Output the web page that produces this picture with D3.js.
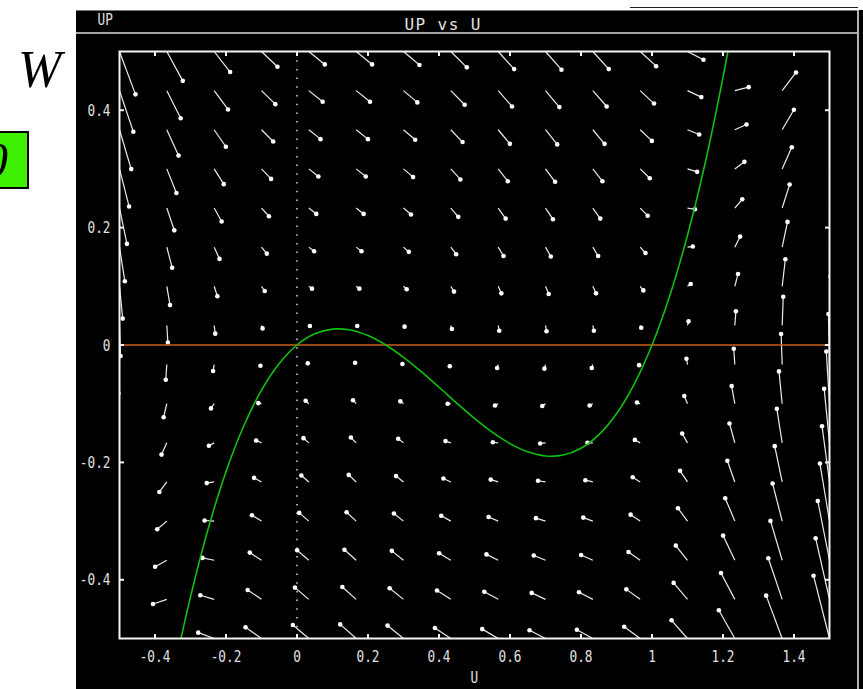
<!DOCTYPE html>
<html>
<head>
<meta charset="utf-8">
<script src="https://cdn.jsdelivr.net/npm/d3@7/dist/d3.min.js"></script>
<style>
  html, body { margin: 0; padding: 0; background: #fff; }
  svg { display: block; }
</style>
</head>
<body>
<svg id="chart" width="863" height="689"></svg>
<script>
// ---- data -------------------------------------------------------------
const uDomain = [-0.5, 1.5];
const upDomain = [-0.5, 0.5];

const uTicks = [-0.4, -0.2, 0, 0.2, 0.4, 0.6, 0.8, 1, 1.2, 1.4];
const uTickLabels = ["-0.4", "-0.2", "0", "0.2", "0.4", "0.6", "0.8", "1", "1.2", "1.4"];
const upTicks = [-0.4, -0.2, 0, 0.2, 0.4];
const upTickLabels = ["-0.4", "-0.2", "0", "0.2", "0.4"];

// direction-field sample points (columns in U, rows in UP)
const gridU = [-0.5, -0.3667, -0.2333, -0.1, 0.0333, 0.1667, 0.3, 0.4333,
               0.5667, 0.7, 0.8333, 0.9667, 1.1, 1.2333, 1.3667, 1.5];
const gridUP = [-0.5, -0.4333, -0.3667, -0.3, -0.2333, -0.1667, -0.1, -0.0333,
                0.0333, 0.1, 0.1667, 0.2333, 0.3, 0.3667, 0.4333, 0.5];

// arrow extent along U, one value per row
const arrowDU = [-0.045, -0.039, -0.033, -0.027, -0.021, -0.015, -0.009, -0.003,
                 0.003, 0.009, 0.015, 0.021, 0.027, 0.033, 0.039, 0.045];

// arrow extent along UP, one row per gridUP entry, one value per gridU entry
const arrowDUP = [
  [-0.028, -0.005, 0.010, 0.019, 0.023, 0.024, 0.022, 0.018, 0.016, 0.014, 0.015, 0.020, 0.031, 0.048, 0.073, 0.107],
  [-0.031, -0.008, 0.007, 0.016, 0.020, 0.021, 0.019, 0.015, 0.013, 0.011, 0.012, 0.017, 0.028, 0.045, 0.070, 0.104],
  [-0.034, -0.011, 0.004, 0.013, 0.017, 0.018, 0.016, 0.012, 0.010, 0.008, 0.009, 0.014, 0.025, 0.042, 0.067, 0.101],
  [-0.037, -0.014, 0.001, 0.010, 0.014, 0.015, 0.013, 0.009, 0.007, 0.005, 0.006, 0.011, 0.022, 0.039, 0.064, 0.098],
  [-0.040, -0.017, -0.002, 0.007, 0.011, 0.012, 0.010, 0.006, 0.004, 0.002, 0.003, 0.008, 0.019, 0.036, 0.061, 0.095],
  [-0.043, -0.020, -0.005, 0.004, 0.008, 0.009, 0.007, 0.003, 0.001, -0.001, 0.000, 0.005, 0.016, 0.033, 0.058, 0.092],
  [-0.046, -0.023, -0.008, 0.001, 0.005, 0.006, 0.004, 0.000, -0.003, -0.004, -0.003, 0.002, 0.013, 0.030, 0.055, 0.089],
  [-0.049, -0.026, -0.011, -0.002, 0.002, 0.003, 0.001, -0.003, -0.006, -0.007, -0.006, -0.001, 0.010, 0.027, 0.052, 0.086],
  [-0.052, -0.029, -0.014, -0.005, -0.001, -0.001, -0.002, -0.006, -0.009, -0.010, -0.009, -0.004, 0.007, 0.024, 0.049, 0.083],
  [-0.055, -0.032, -0.017, -0.008, -0.004, -0.004, -0.005, -0.009, -0.012, -0.013, -0.012, -0.007, 0.004, 0.021, 0.046, 0.080],
  [-0.058, -0.035, -0.020, -0.011, -0.007, -0.007, -0.008, -0.012, -0.015, -0.016, -0.015, -0.010, 0.001, 0.018, 0.043, 0.077],
  [-0.061, -0.038, -0.023, -0.014, -0.010, -0.010, -0.011, -0.015, -0.018, -0.019, -0.018, -0.013, -0.002, 0.015, 0.040, 0.074],
  [-0.064, -0.041, -0.026, -0.017, -0.013, -0.013, -0.014, -0.018, -0.021, -0.022, -0.021, -0.016, -0.005, 0.012, 0.037, 0.071],
  [-0.067, -0.044, -0.029, -0.020, -0.016, -0.016, -0.017, -0.021, -0.024, -0.025, -0.024, -0.019, -0.008, 0.009, 0.034, 0.068],
  [-0.070, -0.047, -0.032, -0.023, -0.019, -0.019, -0.020, -0.024, -0.027, -0.028, -0.027, -0.022, -0.011, 0.006, 0.031, 0.065],
  [-0.073, -0.050, -0.035, -0.026, -0.022, -0.022, -0.023, -0.027, -0.030, -0.031, -0.030, -0.025, -0.014, 0.003, 0.028, 0.062]
];

// U-nullcline (UP = 0)
const uNullclineUP = 0;

// UP-nullcline, cubic in U
const upNullcline = [
  [-0.33, -0.509], [-0.30, -0.429], [-0.25, -0.3125], [-0.20, -0.216], [-0.15, -0.138],
  [-0.10, -0.077], [-0.05, -0.0315], [0.00, 0.000], [0.05, 0.019], [0.10, 0.027],
  [0.15, 0.0255], [0.20, 0.016], [0.25, 0.000], [0.30, -0.021], [0.35, -0.0455],
  [0.40, -0.072], [0.45, -0.099], [0.50, -0.125], [0.55, -0.1485], [0.60, -0.168],
  [0.65, -0.182], [0.70, -0.189], [0.75, -0.1875], [0.80, -0.176], [0.85, -0.153],
  [0.90, -0.117], [0.95, -0.0665], [1.00, 0.000], [1.05, 0.084], [1.10, 0.187],
  [1.15, 0.3105], [1.20, 0.456], [1.22, 0.5207]
];

// ---- drawing ----------------------------------------------------------
const svg = d3.select("#chart");
const W = 863, H = 689;

const x = d3.scaleLinear().domain(uDomain).range([119.5, 829.5]);
const y = d3.scaleLinear().domain(upDomain).range([638.5, 51.5]);

const txt = "#e2e2e2";
const mono = "'DejaVu Sans Mono', 'Liberation Mono', monospace";

// side annotations on the white margin
svg.append("text")
  .attr("x", 18).attr("y", 87)
  .attr("font-family", "'Liberation Serif', 'DejaVu Serif', serif")
  .attr("font-style", "italic")
  .attr("font-size", 52)
  .attr("fill", "#000")
  .text("W");

svg.append("rect")
  .attr("x", -30).attr("y", 132).attr("width", 58).attr("height", 56)
  .attr("fill", "#3cf000").attr("stroke", "#000").attr("stroke-width", 2);
svg.append("text")
  .attr("x", -17).attr("y", 177)
  .attr("font-family", "'Liberation Serif', 'DejaVu Serif', serif")
  .attr("font-style", "italic")
  .attr("font-size", 50)
  .attr("fill", "#000")
  .text("0");

// window
svg.append("line")
  .attr("x1", 630).attr("x2", 858).attr("y1", 7.5).attr("y2", 7.5)
  .attr("stroke", "#222").attr("stroke-width", 1);
svg.append("rect")
  .attr("x", 76).attr("y", 10).attr("width", W - 76).attr("height", H - 10)
  .attr("fill", "#000");
svg.append("line")
  .attr("x1", 76).attr("x2", 858).attr("y1", 10.5).attr("y2", 10.5)
  .attr("stroke", "#777").attr("stroke-width", 1);
svg.append("line")
  .attr("x1", 858).attr("x2", 858).attr("y1", 10).attr("y2", H)
  .attr("stroke", "#eee").attr("stroke-width", 1.5);
svg.append("line")
  .attr("x1", 76).attr("x2", 857).attr("y1", 33).attr("y2", 33)
  .attr("stroke", "#ddd").attr("stroke-width", 1.5);

// small label helper (narrow fixed-width glyphs)
function label(g, tx, ty, s, anchor, size, sx) {
  g.append("text")
    .attr("transform", `translate(${tx},${ty}) scale(${sx},1)`)
    .attr("text-anchor", anchor)
    .attr("font-family", mono)
    .attr("font-size", size)
    .attr("fill", txt)
    .text(s);
}

const labels = svg.append("g");
label(labels, 97.5, 24.5, "UP", "start", 15, 0.85);
svg.append("text")
  .attr("x", 404.5).attr("y", 29.5)
  .attr("font-family", mono)
  .attr("font-size", 16)
  .attr("letter-spacing", 1.4)
  .attr("fill", txt)
  .text("UP vs U");

// clip region for everything inside the frame
svg.append("defs").append("clipPath").attr("id", "plotclip")
  .append("rect")
  .attr("x", x(uDomain[0])).attr("y", y(upDomain[1]))
  .attr("width", x(uDomain[1]) - x(uDomain[0]))
  .attr("height", y(upDomain[0]) - y(upDomain[1]));

const plot = svg.append("g").attr("clip-path", "url(#plotclip)");

// dotted axis at U = 0
plot.append("line")
  .attr("x1", x(0)).attr("x2", x(0))
  .attr("y1", y(upDomain[1])).attr("y2", y(upDomain[0]))
  .attr("stroke", "#fff").attr("stroke-width", 1.3)
  .attr("stroke-dasharray", "1.5 7.2");

// direction field
const arrows = [];
gridUP.forEach((w, j) => {
  gridU.forEach((u, i) => {
    arrows.push({ u, w, du: arrowDU[j], dw: arrowDUP[j][i] });
  });
});

const field = plot.append("g");
field.selectAll("line")
  .data(arrows)
  .join("line")
  .attr("x1", d => x(d.u)).attr("y1", d => y(d.w))
  .attr("x2", d => x(d.u + d.du)).attr("y2", d => y(d.w + d.dw))
  .attr("stroke", "#ececec").attr("stroke-width", 1.2);
field.selectAll("circle")
  .data(arrows)
  .join("circle")
  .attr("cx", d => x(d.u + d.du)).attr("cy", d => y(d.w + d.dw))
  .attr("r", 2.3)
  .attr("fill", "#fff");

// nullclines
plot.append("line")
  .attr("x1", x(uDomain[0])).attr("x2", x(uDomain[1]))
  .attr("y1", y(uNullclineUP)).attr("y2", y(uNullclineUP))
  .attr("stroke", "#cf5f1c").attr("stroke-width", 1.6);

plot.append("path")
  .datum(upNullcline)
  .attr("d", d3.line().x(d => x(d[0])).y(d => y(d[1])).curve(d3.curveCatmullRom))
  .attr("fill", "none")
  .attr("stroke", "#10c010").attr("stroke-width", 1.6);

// frame
svg.append("rect")
  .attr("x", x(uDomain[0])).attr("y", y(upDomain[1]))
  .attr("width", x(uDomain[1]) - x(uDomain[0]))
  .attr("height", y(upDomain[0]) - y(upDomain[1]))
  .attr("fill", "none").attr("stroke", "#f4f4f4").attr("stroke-width", 2);

// inward ticks on all four sides
const tk = 4.5;
const ticks = svg.append("g").attr("stroke", "#f4f4f4").attr("stroke-width", 2);
uTicks.forEach(v => {
  ticks.append("line").attr("x1", x(v)).attr("x2", x(v))
    .attr("y1", y(upDomain[0])).attr("y2", y(upDomain[0]) - tk);
  ticks.append("line").attr("x1", x(v)).attr("x2", x(v))
    .attr("y1", y(upDomain[1])).attr("y2", y(upDomain[1]) + tk);
});
upTicks.forEach(v => {
  ticks.append("line").attr("y1", y(v)).attr("y2", y(v))
    .attr("x1", x(uDomain[0])).attr("x2", x(uDomain[0]) + tk);
  ticks.append("line").attr("y1", y(v)).attr("y2", y(v))
    .attr("x1", x(uDomain[1])).attr("x2", x(uDomain[1]) - tk);
});

// tick labels
uTicks.forEach((v, i) => label(labels, x(v), 662, uTickLabels[i], "middle", 15, 0.85));
upTicks.forEach((v, i) => label(labels, 110.5, y(v) + 5.5, upTickLabels[i], "end", 15, 0.85));

// axis name under the frame
label(labels, 470.5, 682.5, "U", "start", 15, 0.85);
</script>
</body>
</html>
